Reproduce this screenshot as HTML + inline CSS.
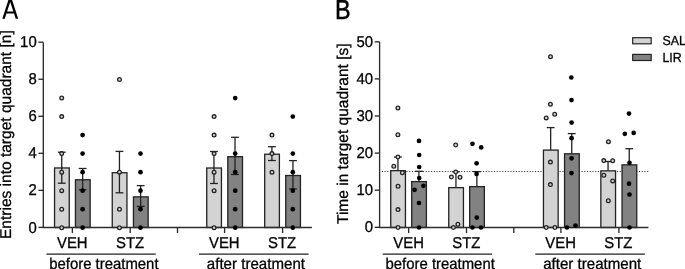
<!DOCTYPE html>
<html><head><meta charset="utf-8"><style>
html,body{margin:0;padding:0;background:#fff;}
svg{display:block;text-rendering:geometricPrecision;will-change:transform;}
.t,.L,.g{font-family:"Liberation Sans", sans-serif;fill:#000;}
.t,.g{stroke:#000;stroke-width:0.3px;}
.L{stroke:#000;stroke-width:0.5px;}
</style></head><body>
<svg width="685" height="269" viewBox="0 0 685 269">
<rect width="685" height="269" fill="#fff"/>
<line x1="381.85" y1="171.5" x2="649" y2="171.5" stroke="#333" stroke-width="1" stroke-dasharray="1.1 1.635"/>
<rect x="54.55" y="167.95" width="14.7" height="59.55" fill="#d3d3d3" stroke="#222" stroke-width="1.3"/>
<rect x="75.45" y="179.75" width="14.7" height="47.75" fill="#828282" stroke="#222" stroke-width="1.3"/>
<rect x="112.25" y="172.7" width="14.7" height="54.8" fill="#d3d3d3" stroke="#222" stroke-width="1.3"/>
<rect x="133.45" y="196.85" width="14.7" height="30.65" fill="#828282" stroke="#222" stroke-width="1.3"/>
<rect x="206.75" y="168" width="14.7" height="59.5" fill="#d3d3d3" stroke="#222" stroke-width="1.3"/>
<rect x="227.8" y="156.7" width="14.7" height="70.8" fill="#828282" stroke="#222" stroke-width="1.3"/>
<rect x="264.7" y="154.2" width="14.7" height="73.3" fill="#d3d3d3" stroke="#222" stroke-width="1.3"/>
<rect x="285.75" y="175.5" width="14.7" height="52" fill="#828282" stroke="#222" stroke-width="1.3"/>
<path d="M43.3 42.2 V227.5 H311.9" fill="none" stroke="#2c2c2c" stroke-width="1.35"/>
<line x1="38.4" y1="227.4" x2="43.3" y2="227.4" stroke="#2c2c2c" stroke-width="1.35"/>
<line x1="38.4" y1="190.36" x2="43.3" y2="190.36" stroke="#2c2c2c" stroke-width="1.35"/>
<line x1="38.4" y1="153.32" x2="43.3" y2="153.32" stroke="#2c2c2c" stroke-width="1.35"/>
<line x1="38.4" y1="116.28" x2="43.3" y2="116.28" stroke="#2c2c2c" stroke-width="1.35"/>
<line x1="38.4" y1="79.24" x2="43.3" y2="79.24" stroke="#2c2c2c" stroke-width="1.35"/>
<line x1="38.4" y1="42.2" x2="43.3" y2="42.2" stroke="#2c2c2c" stroke-width="1.35"/>
<line x1="61.75" y1="152.2" x2="61.75" y2="183.2" stroke="#222" stroke-width="1.3"/>
<line x1="57.85" y1="152.2" x2="65.65" y2="152.2" stroke="#222" stroke-width="1.3"/>
<line x1="57.85" y1="183.2" x2="65.65" y2="183.2" stroke="#222" stroke-width="1.3"/>
<line x1="82.65" y1="168.5" x2="82.65" y2="189.8" stroke="#222" stroke-width="1.3"/>
<line x1="78.75" y1="168.5" x2="86.55" y2="168.5" stroke="#222" stroke-width="1.3"/>
<line x1="78.75" y1="189.8" x2="86.55" y2="189.8" stroke="#222" stroke-width="1.3"/>
<line x1="119.45" y1="151.4" x2="119.45" y2="192.8" stroke="#222" stroke-width="1.3"/>
<line x1="115.55" y1="151.4" x2="123.35" y2="151.4" stroke="#222" stroke-width="1.3"/>
<line x1="115.55" y1="192.8" x2="123.35" y2="192.8" stroke="#222" stroke-width="1.3"/>
<line x1="140.65" y1="185.6" x2="140.65" y2="206.4" stroke="#222" stroke-width="1.3"/>
<line x1="136.75" y1="185.6" x2="144.55" y2="185.6" stroke="#222" stroke-width="1.3"/>
<line x1="136.75" y1="206.4" x2="144.55" y2="206.4" stroke="#222" stroke-width="1.3"/>
<line x1="213.95" y1="151.5" x2="213.95" y2="183.5" stroke="#222" stroke-width="1.3"/>
<line x1="210.05" y1="151.5" x2="217.85" y2="151.5" stroke="#222" stroke-width="1.3"/>
<line x1="210.05" y1="183.5" x2="217.85" y2="183.5" stroke="#222" stroke-width="1.3"/>
<line x1="235" y1="137.3" x2="235" y2="174.5" stroke="#222" stroke-width="1.3"/>
<line x1="231.1" y1="137.3" x2="238.9" y2="137.3" stroke="#222" stroke-width="1.3"/>
<line x1="231.1" y1="174.5" x2="238.9" y2="174.5" stroke="#222" stroke-width="1.3"/>
<line x1="271.9" y1="146.7" x2="271.9" y2="160.5" stroke="#222" stroke-width="1.3"/>
<line x1="268" y1="146.7" x2="275.8" y2="146.7" stroke="#222" stroke-width="1.3"/>
<line x1="268" y1="160.5" x2="275.8" y2="160.5" stroke="#222" stroke-width="1.3"/>
<line x1="292.95" y1="160.6" x2="292.95" y2="188.9" stroke="#222" stroke-width="1.3"/>
<line x1="289.05" y1="160.6" x2="296.85" y2="160.6" stroke="#222" stroke-width="1.3"/>
<line x1="289.05" y1="188.9" x2="296.85" y2="188.9" stroke="#222" stroke-width="1.3"/>
<circle cx="61.7" cy="98.06" r="1.85" fill="#d3d3d3" stroke="#222" stroke-width="1.3"/>
<circle cx="61.7" cy="116.58" r="1.85" fill="#d3d3d3" stroke="#222" stroke-width="1.3"/>
<circle cx="61.7" cy="153.62" r="1.85" fill="#d3d3d3" stroke="#222" stroke-width="1.3"/>
<circle cx="61.7" cy="172.14" r="1.85" fill="#d3d3d3" stroke="#222" stroke-width="1.3"/>
<circle cx="61.7" cy="190.66" r="1.85" fill="#d3d3d3" stroke="#222" stroke-width="1.3"/>
<circle cx="61.7" cy="209.18" r="1.85" fill="#d3d3d3" stroke="#222" stroke-width="1.3"/>
<circle cx="61.7" cy="227.7" r="1.85" fill="#d3d3d3" stroke="#222" stroke-width="1.3"/>
<circle cx="119.45" cy="79.54" r="1.85" fill="#d3d3d3" stroke="#222" stroke-width="1.3"/>
<circle cx="119.45" cy="172.14" r="1.85" fill="#d3d3d3" stroke="#222" stroke-width="1.3"/>
<circle cx="119.45" cy="209.18" r="1.85" fill="#d3d3d3" stroke="#222" stroke-width="1.3"/>
<circle cx="119.45" cy="227.7" r="1.85" fill="#d3d3d3" stroke="#222" stroke-width="1.3"/>
<circle cx="214.1" cy="116.58" r="1.85" fill="#d3d3d3" stroke="#222" stroke-width="1.3"/>
<circle cx="214.1" cy="135.1" r="1.85" fill="#d3d3d3" stroke="#222" stroke-width="1.3"/>
<circle cx="214.1" cy="153.62" r="1.85" fill="#d3d3d3" stroke="#222" stroke-width="1.3"/>
<circle cx="214.1" cy="172.14" r="1.85" fill="#d3d3d3" stroke="#222" stroke-width="1.3"/>
<circle cx="214.1" cy="190.66" r="1.85" fill="#d3d3d3" stroke="#222" stroke-width="1.3"/>
<circle cx="214.1" cy="227.7" r="1.85" fill="#d3d3d3" stroke="#222" stroke-width="1.3"/>
<circle cx="271.95" cy="135.1" r="1.85" fill="#d3d3d3" stroke="#222" stroke-width="1.3"/>
<circle cx="271.95" cy="153.62" r="1.85" fill="#d3d3d3" stroke="#222" stroke-width="1.3"/>
<circle cx="271.95" cy="172.14" r="1.85" fill="#d3d3d3" stroke="#222" stroke-width="1.3"/>
<circle cx="82.6" cy="135.1" r="2.35" fill="#000"/>
<circle cx="82.6" cy="153.62" r="2.35" fill="#000"/>
<circle cx="82.6" cy="172.14" r="2.35" fill="#000"/>
<circle cx="82.6" cy="190.66" r="2.35" fill="#000"/>
<circle cx="82.6" cy="209.18" r="2.35" fill="#000"/>
<circle cx="82.6" cy="227.7" r="2.35" fill="#000"/>
<circle cx="140.5" cy="153.62" r="2.35" fill="#000"/>
<circle cx="140.5" cy="172.14" r="2.35" fill="#000"/>
<circle cx="140.5" cy="190.66" r="2.35" fill="#000"/>
<circle cx="140.5" cy="209.18" r="2.35" fill="#000"/>
<circle cx="140.5" cy="227.7" r="2.35" fill="#000"/>
<circle cx="235.2" cy="98.06" r="2.35" fill="#000"/>
<circle cx="235.2" cy="153.62" r="2.35" fill="#000"/>
<circle cx="235.2" cy="172.14" r="2.35" fill="#000"/>
<circle cx="235.2" cy="190.66" r="2.35" fill="#000"/>
<circle cx="235.2" cy="209.18" r="2.35" fill="#000"/>
<circle cx="235.2" cy="227.7" r="2.35" fill="#000"/>
<circle cx="292.8" cy="116.58" r="2.35" fill="#000"/>
<circle cx="292.8" cy="153.62" r="2.35" fill="#000"/>
<circle cx="292.8" cy="172.14" r="2.35" fill="#000"/>
<circle cx="292.8" cy="190.66" r="2.35" fill="#000"/>
<circle cx="292.8" cy="209.18" r="2.35" fill="#000"/>
<circle cx="292.8" cy="227.7" r="2.35" fill="#000"/>
<text transform="translate(36.7 232.5) scale(0.95 1)" text-anchor="end" class="t" style="font-size:15.7px">0</text>
<text transform="translate(36.7 195.46) scale(0.95 1)" text-anchor="end" class="t" style="font-size:15.7px">2</text>
<text transform="translate(36.7 158.42) scale(0.95 1)" text-anchor="end" class="t" style="font-size:15.7px">4</text>
<text transform="translate(36.7 121.38) scale(0.95 1)" text-anchor="end" class="t" style="font-size:15.7px">6</text>
<text transform="translate(36.7 84.34) scale(0.95 1)" text-anchor="end" class="t" style="font-size:15.7px">8</text>
<text transform="translate(36.7 47.3) scale(0.95 1)" text-anchor="end" class="t" style="font-size:15.7px">10</text>
<line x1="72.35" y1="227.5" x2="72.35" y2="233.1" stroke="#2c2c2c" stroke-width="1.35"/>
<line x1="130.2" y1="227.5" x2="130.2" y2="233.1" stroke="#2c2c2c" stroke-width="1.35"/>
<line x1="177.5" y1="227.5" x2="177.5" y2="233.1" stroke="#2c2c2c" stroke-width="1.35"/>
<line x1="224.6" y1="227.5" x2="224.6" y2="233.1" stroke="#2c2c2c" stroke-width="1.35"/>
<line x1="282.6" y1="227.5" x2="282.6" y2="233.1" stroke="#2c2c2c" stroke-width="1.35"/>
<text transform="translate(72.3 248.4) scale(0.95 1)" text-anchor="middle" class="t" style="font-size:15.7px">VEH</text>
<text transform="translate(130.1 248.4) scale(0.95 1)" text-anchor="middle" class="t" style="font-size:15.7px">STZ</text>
<text transform="translate(224.3 248.4) scale(0.95 1)" text-anchor="middle" class="t" style="font-size:15.7px">VEH</text>
<text transform="translate(282.1 248.4) scale(0.95 1)" text-anchor="middle" class="t" style="font-size:15.7px">STZ</text>
<line x1="46.4" y1="254.1" x2="155.7" y2="254.1" stroke="#222" stroke-width="1.3"/>
<line x1="199" y1="254.1" x2="308.6" y2="254.1" stroke="#222" stroke-width="1.3"/>
<text transform="translate(103.85 269.2) scale(0.95 1)" text-anchor="middle" class="t" style="font-size:15.7px">before treatment</text>
<text transform="translate(255.9 269.2) scale(0.962 1)" text-anchor="middle" class="t" style="font-size:15.7px">after treatment</text>
<text transform="translate(11.2 239) rotate(-90) scale(0.995 1.0)" class="t" style="font-size:15.6px">Entries into target quadrant [n]</text>
<rect x="390.75" y="170.65" width="14.7" height="56.85" fill="#d3d3d3" stroke="#222" stroke-width="1.3"/>
<rect x="411.7" y="181.6" width="14.7" height="45.9" fill="#828282" stroke="#222" stroke-width="1.3"/>
<rect x="448.75" y="187.65" width="14.7" height="39.85" fill="#d3d3d3" stroke="#222" stroke-width="1.3"/>
<rect x="469.65" y="186.65" width="14.7" height="40.85" fill="#828282" stroke="#222" stroke-width="1.3"/>
<rect x="543.45" y="150.1" width="14.7" height="77.4" fill="#d3d3d3" stroke="#222" stroke-width="1.3"/>
<rect x="564.55" y="153.8" width="14.7" height="73.7" fill="#828282" stroke="#222" stroke-width="1.3"/>
<rect x="600.85" y="170.85" width="14.7" height="56.65" fill="#d3d3d3" stroke="#222" stroke-width="1.3"/>
<rect x="622.05" y="164.85" width="14.7" height="62.65" fill="#828282" stroke="#222" stroke-width="1.3"/>
<path d="M379.6 41.8 V227.5 H648.4" fill="none" stroke="#2c2c2c" stroke-width="1.35"/>
<line x1="374.7" y1="227.3" x2="379.6" y2="227.3" stroke="#2c2c2c" stroke-width="1.35"/>
<line x1="374.7" y1="190.2" x2="379.6" y2="190.2" stroke="#2c2c2c" stroke-width="1.35"/>
<line x1="374.7" y1="153.1" x2="379.6" y2="153.1" stroke="#2c2c2c" stroke-width="1.35"/>
<line x1="374.7" y1="116" x2="379.6" y2="116" stroke="#2c2c2c" stroke-width="1.35"/>
<line x1="374.7" y1="78.9" x2="379.6" y2="78.9" stroke="#2c2c2c" stroke-width="1.35"/>
<line x1="374.7" y1="41.8" x2="379.6" y2="41.8" stroke="#2c2c2c" stroke-width="1.35"/>
<line x1="397.95" y1="157" x2="397.95" y2="170.65" stroke="#222" stroke-width="1.3"/>
<line x1="394.05" y1="157" x2="401.85" y2="157" stroke="#222" stroke-width="1.3"/>
<line x1="418.9" y1="171.3" x2="418.9" y2="181.6" stroke="#222" stroke-width="1.3"/>
<line x1="415" y1="171.3" x2="422.8" y2="171.3" stroke="#222" stroke-width="1.3"/>
<line x1="455.95" y1="171.8" x2="455.95" y2="187.65" stroke="#222" stroke-width="1.3"/>
<line x1="452.05" y1="171.8" x2="459.85" y2="171.8" stroke="#222" stroke-width="1.3"/>
<line x1="476.85" y1="171.6" x2="476.85" y2="186.65" stroke="#222" stroke-width="1.3"/>
<line x1="472.95" y1="171.6" x2="480.75" y2="171.6" stroke="#222" stroke-width="1.3"/>
<line x1="550.65" y1="127.6" x2="550.65" y2="150.1" stroke="#222" stroke-width="1.3"/>
<line x1="546.75" y1="127.6" x2="554.55" y2="127.6" stroke="#222" stroke-width="1.3"/>
<line x1="571.75" y1="133.6" x2="571.75" y2="153.8" stroke="#222" stroke-width="1.3"/>
<line x1="567.85" y1="133.6" x2="575.65" y2="133.6" stroke="#222" stroke-width="1.3"/>
<line x1="608.05" y1="161.5" x2="608.05" y2="170.85" stroke="#222" stroke-width="1.3"/>
<line x1="604.15" y1="161.5" x2="611.95" y2="161.5" stroke="#222" stroke-width="1.3"/>
<line x1="629.25" y1="148.7" x2="629.25" y2="164.85" stroke="#222" stroke-width="1.3"/>
<line x1="625.35" y1="148.7" x2="633.15" y2="148.7" stroke="#222" stroke-width="1.3"/>
<circle cx="397.9" cy="108" r="1.85" fill="#d3d3d3" stroke="#222" stroke-width="1.3"/>
<circle cx="397.9" cy="134.8" r="1.85" fill="#d3d3d3" stroke="#222" stroke-width="1.3"/>
<circle cx="397.9" cy="157" r="1.85" fill="#d3d3d3" stroke="#222" stroke-width="1.3"/>
<circle cx="393.8" cy="166.3" r="1.85" fill="#d3d3d3" stroke="#222" stroke-width="1.3"/>
<circle cx="402.4" cy="172.7" r="1.85" fill="#d3d3d3" stroke="#222" stroke-width="1.3"/>
<circle cx="398.05" cy="186.3" r="1.85" fill="#d3d3d3" stroke="#222" stroke-width="1.3"/>
<circle cx="398" cy="209.6" r="1.85" fill="#d3d3d3" stroke="#222" stroke-width="1.3"/>
<circle cx="398" cy="227.5" r="1.85" fill="#d3d3d3" stroke="#222" stroke-width="1.3"/>
<circle cx="455.7" cy="145" r="1.85" fill="#d3d3d3" stroke="#222" stroke-width="1.3"/>
<circle cx="455.7" cy="172" r="1.85" fill="#d3d3d3" stroke="#222" stroke-width="1.3"/>
<circle cx="451.4" cy="177" r="1.85" fill="#d3d3d3" stroke="#222" stroke-width="1.3"/>
<circle cx="460" cy="177.3" r="1.85" fill="#d3d3d3" stroke="#222" stroke-width="1.3"/>
<circle cx="453.4" cy="227.5" r="1.85" fill="#d3d3d3" stroke="#222" stroke-width="1.3"/>
<circle cx="457.9" cy="224.3" r="1.85" fill="#d3d3d3" stroke="#222" stroke-width="1.3"/>
<circle cx="550.5" cy="56.7" r="1.85" fill="#d3d3d3" stroke="#222" stroke-width="1.3"/>
<circle cx="550.4" cy="104.2" r="1.85" fill="#d3d3d3" stroke="#222" stroke-width="1.3"/>
<circle cx="554.7" cy="114.2" r="1.85" fill="#d3d3d3" stroke="#222" stroke-width="1.3"/>
<circle cx="546.2" cy="117.9" r="1.85" fill="#d3d3d3" stroke="#222" stroke-width="1.3"/>
<circle cx="550.4" cy="162.1" r="1.85" fill="#d3d3d3" stroke="#222" stroke-width="1.3"/>
<circle cx="550.4" cy="184.6" r="1.85" fill="#d3d3d3" stroke="#222" stroke-width="1.3"/>
<circle cx="546.2" cy="227.5" r="1.85" fill="#d3d3d3" stroke="#222" stroke-width="1.3"/>
<circle cx="554.9" cy="227.5" r="1.85" fill="#d3d3d3" stroke="#222" stroke-width="1.3"/>
<circle cx="608.4" cy="141.7" r="1.85" fill="#d3d3d3" stroke="#222" stroke-width="1.3"/>
<circle cx="603.8" cy="160.6" r="1.85" fill="#d3d3d3" stroke="#222" stroke-width="1.3"/>
<circle cx="612.7" cy="160.8" r="1.85" fill="#d3d3d3" stroke="#222" stroke-width="1.3"/>
<circle cx="603.8" cy="175.3" r="1.85" fill="#d3d3d3" stroke="#222" stroke-width="1.3"/>
<circle cx="612.7" cy="180.9" r="1.85" fill="#d3d3d3" stroke="#222" stroke-width="1.3"/>
<circle cx="608.3" cy="200.7" r="1.85" fill="#d3d3d3" stroke="#222" stroke-width="1.3"/>
<circle cx="419" cy="140.9" r="2.35" fill="#000"/>
<circle cx="419.2" cy="155" r="2.35" fill="#000"/>
<circle cx="419.2" cy="167" r="2.35" fill="#000"/>
<circle cx="419.2" cy="178" r="2.35" fill="#000"/>
<circle cx="414.6" cy="189.8" r="2.35" fill="#000"/>
<circle cx="423.4" cy="185.8" r="2.35" fill="#000"/>
<circle cx="419" cy="203" r="2.35" fill="#000"/>
<circle cx="419" cy="227.5" r="2.35" fill="#000"/>
<circle cx="472.5" cy="143.8" r="2.35" fill="#000"/>
<circle cx="481.2" cy="147.4" r="2.35" fill="#000"/>
<circle cx="476.6" cy="163.3" r="2.35" fill="#000"/>
<circle cx="476.6" cy="173.9" r="2.35" fill="#000"/>
<circle cx="476.8" cy="217.6" r="2.35" fill="#000"/>
<circle cx="472.4" cy="227.5" r="2.35" fill="#000"/>
<circle cx="481" cy="227.5" r="2.35" fill="#000"/>
<circle cx="571.3" cy="77.5" r="2.35" fill="#000"/>
<circle cx="571.5" cy="100.1" r="2.35" fill="#000"/>
<circle cx="571.6" cy="122.6" r="2.35" fill="#000"/>
<circle cx="571.6" cy="138.2" r="2.35" fill="#000"/>
<circle cx="571.6" cy="158.3" r="2.35" fill="#000"/>
<circle cx="571.5" cy="173.1" r="2.35" fill="#000"/>
<circle cx="567" cy="227.5" r="2.35" fill="#000"/>
<circle cx="575.5" cy="225.5" r="2.35" fill="#000"/>
<circle cx="629" cy="113.6" r="2.35" fill="#000"/>
<circle cx="624.8" cy="133.8" r="2.35" fill="#000"/>
<circle cx="633.7" cy="132.9" r="2.35" fill="#000"/>
<circle cx="629.5" cy="162.8" r="2.35" fill="#000"/>
<circle cx="629" cy="183.7" r="2.35" fill="#000"/>
<circle cx="629.5" cy="194.5" r="2.35" fill="#000"/>
<circle cx="629.5" cy="227.5" r="2.35" fill="#000"/>
<text transform="translate(373 232.4) scale(0.95 1)" text-anchor="end" class="t" style="font-size:15.7px">0</text>
<text transform="translate(373 195.3) scale(0.95 1)" text-anchor="end" class="t" style="font-size:15.7px">10</text>
<text transform="translate(373 158.2) scale(0.95 1)" text-anchor="end" class="t" style="font-size:15.7px">20</text>
<text transform="translate(373 121.1) scale(0.95 1)" text-anchor="end" class="t" style="font-size:15.7px">30</text>
<text transform="translate(373 84) scale(0.95 1)" text-anchor="end" class="t" style="font-size:15.7px">40</text>
<text transform="translate(373 46.9) scale(0.95 1)" text-anchor="end" class="t" style="font-size:15.7px">50</text>
<line x1="408.65" y1="227.5" x2="408.65" y2="233.1" stroke="#2c2c2c" stroke-width="1.35"/>
<line x1="466.5" y1="227.5" x2="466.5" y2="233.1" stroke="#2c2c2c" stroke-width="1.35"/>
<line x1="513.8" y1="227.5" x2="513.8" y2="233.1" stroke="#2c2c2c" stroke-width="1.35"/>
<line x1="560.9" y1="227.5" x2="560.9" y2="233.1" stroke="#2c2c2c" stroke-width="1.35"/>
<line x1="618.9" y1="227.5" x2="618.9" y2="233.1" stroke="#2c2c2c" stroke-width="1.35"/>
<text transform="translate(408.6 248.4) scale(0.95 1)" text-anchor="middle" class="t" style="font-size:15.7px">VEH</text>
<text transform="translate(466.4 248.4) scale(0.95 1)" text-anchor="middle" class="t" style="font-size:15.7px">STZ</text>
<text transform="translate(560.6 248.4) scale(0.95 1)" text-anchor="middle" class="t" style="font-size:15.7px">VEH</text>
<text transform="translate(618.4 248.4) scale(0.95 1)" text-anchor="middle" class="t" style="font-size:15.7px">STZ</text>
<line x1="382.7" y1="254.1" x2="492" y2="254.1" stroke="#222" stroke-width="1.3"/>
<line x1="535.3" y1="254.1" x2="644.9" y2="254.1" stroke="#222" stroke-width="1.3"/>
<text transform="translate(440.15 269.2) scale(0.95 1)" text-anchor="middle" class="t" style="font-size:15.7px">before treatment</text>
<text transform="translate(592.2 269.2) scale(0.962 1)" text-anchor="middle" class="t" style="font-size:15.7px">after treatment</text>
<text transform="translate(347.6 224) rotate(-90) scale(0.995 1.0)" class="t" style="font-size:15.6px">Time in target quadrant [s]</text>
<path fill-rule="evenodd" fill="#000" d="M2.3 18.7L8.7 -1L11.8 -1L18.2 18.7L15.7 18.7L14.05 13.6L6.45 13.6L4.8 18.7Z M7.05 11.5L13.35 11.5L10.2 2.05Z"/>
<text transform="translate(335 18.9) scale(0.85 1)" class="L" style="font-size:27.5px">B</text>
<rect x="632.7" y="37.7" width="18.5" height="6.1" fill="#d3d3d3" stroke="#222" stroke-width="1.2"/>
<rect x="632.7" y="54.4" width="18.5" height="6.1" fill="#828282" stroke="#222" stroke-width="1.2"/>
<text transform="translate(662.4 44.6) scale(0.94 1)" class="g" style="font-size:13.2px">SAL</text>
<text transform="translate(662.4 61.6) scale(0.94 1)" class="g" style="font-size:13.2px">LIR</text>
</svg>
</body></html>
